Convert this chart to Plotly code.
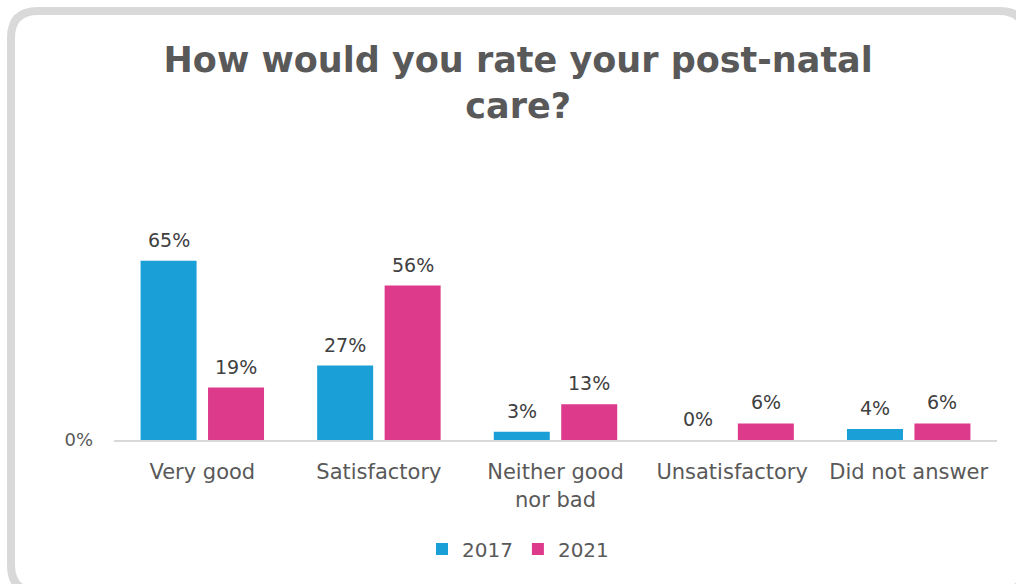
import plotly.graph_objects as go

categories = ["Very good", "Satisfactory", "Neither good<br>nor bad", "Unsatisfactory", "Did not answer"]
values_2017 = [65, 27, 3, 0, 4]
values_2021 = [19, 56, 13, 6, 6]
series_names = ["2017", "2021"]
series_colors = ["#1a9fd6", "#dd3a8b"]
y_tick_vals = [0]
y_tick_text = ["0%"]

W, H = 1016, 584
L, R, T, B = 114, 19, 247, 144
pw, ph = W - L - R, H - T - B
BARGAP = 0.236
slot_px = (1 - BARGAP) * pw / len(categories) / 2

def px(x):
    return (x - L) / pw

def py(y):
    return (H - B - y) / ph

fig = go.Figure()
annotations = []
for i, (name, vals, col) in enumerate(zip(series_names, [values_2017, values_2021], series_colors)):
    fig.add_trace(go.Bar(
        x=categories, y=vals, name=name,
        marker=dict(color=col, line=dict(width=0)),
        cliponaxis=False,
    ))
    shift = (i - 0.5) * slot_px
    for c, v in zip(categories, vals):
        annotations.append(dict(
            x=c, y=v, xref="x", yref="y", text=f"{v}%", showarrow=False,
            xshift=shift, yshift=21, yanchor="middle", xanchor="center",
            font=dict(family="DejaVu Sans", size=19, color="#404040"),
        ))

# rounded border (centerline coordinates in pixels)
x0, y0, x1, y1, r = 11, 11, 1026, 592, 27
path = (
    f"M{px(x0 + r)},{py(y0)} L{px(x1 - r)},{py(y0)} "
    f"Q{px(x1)},{py(y0)} {px(x1)},{py(y0 + r)} "
    f"L{px(x1)},{py(y1 - r)} Q{px(x1)},{py(y1)} {px(x1 - r)},{py(y1)} "
    f"L{px(x0 + r)},{py(y1)} Q{px(x0)},{py(y1)} {px(x0)},{py(y1 - r)} "
    f"L{px(x0)},{py(y0 + r)} Q{px(x0)},{py(y0)} {px(x0 + r)},{py(y0)} Z"
)

fig.update_layout(
    width=W, height=H,
    margin=dict(l=L, r=R, t=T, b=B, autoexpand=False),
    paper_bgcolor="white", plot_bgcolor="white",
    barmode="group", bargap=BARGAP, bargroupgap=0.17,
    title=dict(
        text="How would you rate your post-natal<br>care?",
        x=0.51, xanchor="center", y=1 - 72 / H, yanchor="middle",
        font=dict(family="DejaVu Sans", size=35, color="#595959", weight="bold"),
    ),
    font=dict(family="DejaVu Sans", size=19, color="#595959"),
    xaxis=dict(
        showline=True, linecolor="#d9d9d9", linewidth=2,
        showgrid=False, ticks="", tickfont=dict(size=21, color="#595959"),
        ticklabelstandoff=12,
    ),
    yaxis=dict(
        range=[0, 70], showline=False, showgrid=False, zeroline=False,
        tickvals=y_tick_vals, ticktext=y_tick_text, ticks="",
        tickfont=dict(size=18, color="#595959"), ticklabelstandoff=20,
    ),
    legend=dict(
        orientation="h", x=px(422), xanchor="left", y=py(549), yanchor="middle",
        font=dict(size=20, color="#595959"), itemwidth=30,
        traceorder="normal",
    ),
    annotations=annotations,
    shapes=[dict(
        type="path", xref="paper", yref="paper", path=path,
        line=dict(color="#d9d9d9", width=8), fillcolor="rgba(0,0,0,0)",
        layer="below",
    )],
)

fig.write_html("out.html", config={"displayModeBar": False},
               post_script="document.body.style.margin='0px';")
